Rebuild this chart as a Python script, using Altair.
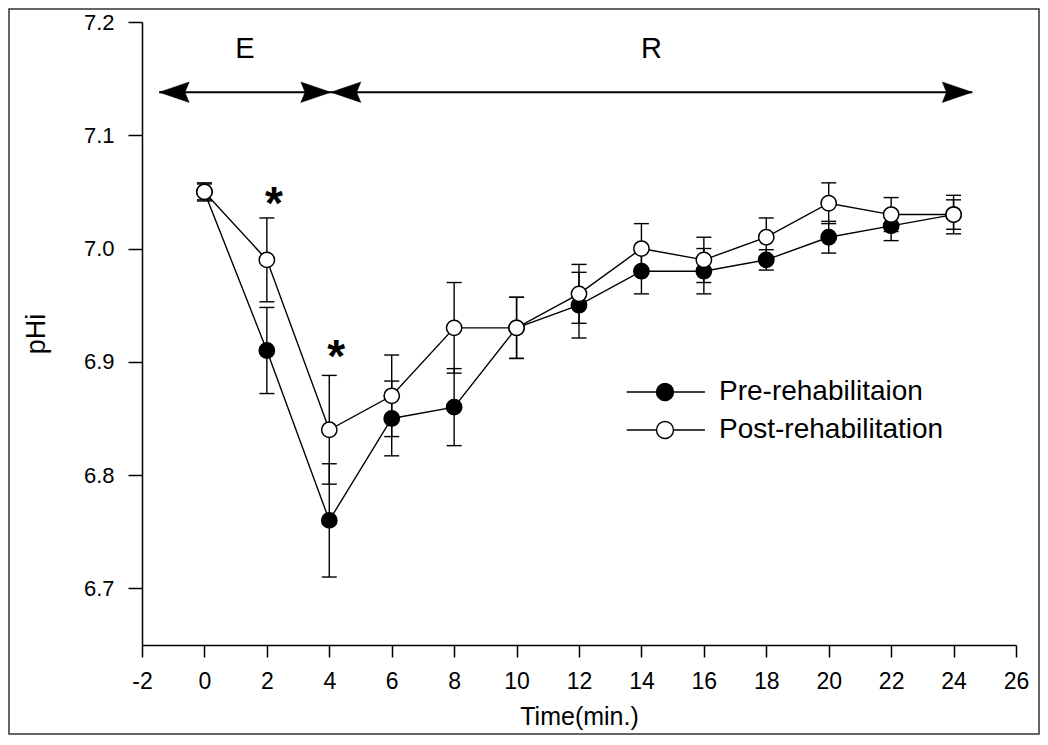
import altair as alt
import pandas as pd

# ---------------- data ----------------
times = [0, 2, 4, 6, 8, 10, 12, 14, 16, 18, 20, 22, 24]
series_names = ["Pre-rehabilitaion", "Post-rehabilitation"]
pre_mean = [7.05, 6.91, 6.76, 6.85, 6.86, 6.93, 6.95, 6.98, 6.98, 6.99, 7.01, 7.02, 7.03]
pre_se = [0.007, 0.038, 0.050, 0.033, 0.034, 0.027, 0.029, 0.020, 0.020, 0.009, 0.014, 0.013, 0.017]
post_mean = [7.05, 6.99, 6.84, 6.87, 6.93, 6.93, 6.96, 7.00, 6.99, 7.01, 7.04, 7.03, 7.03]
post_se = [0.008, 0.037, 0.048, 0.036, 0.040, 0.027, 0.026, 0.022, 0.020, 0.017, 0.018, 0.015, 0.013]

phase_labels = ["E", "R"]
phase_start = [-1.45, 4.05]
phase_end = [4.05, 24.6]

star_times = [2, 4]
star_levels = [7.046, 6.911]

x_ticks = list(range(-2, 27, 2))
y_ticks = [6.7, 6.8, 6.9, 7.0, 7.1, 7.2]

# ---------------- tables ----------------
rows = []
for name, means, ses in [(series_names[0], pre_mean, pre_se), (series_names[1], post_mean, post_se)]:
    for t, m, s in zip(times, means, ses):
        rows.append({"series": name, "time": t, "mean": m, "lo": m - s, "hi": m + s})
df = pd.DataFrame(rows)
df_pre = df[df.series == series_names[0]]
df_post = df[df.series == series_names[1]]

phases = pd.DataFrame({"label": phase_labels, "start": phase_start, "end": phase_end})
phases["mid"] = (phases["start"] + phases["end"]) / 2
stars = pd.DataFrame({"time": star_times, "level": star_levels, "txt": ["*"] * len(star_times)})

# ---------------- layout / style constants ----------------
W, H = 874, 623
ARROW_Y = 7.138
LABEL_Y = 7.176
FONT = "Liberation Sans"
LW = 1.4

xs = alt.Scale(domain=[-2, 26], nice=False, zero=False)
ys = alt.Scale(domain=[6.65, 7.2], nice=False, zero=False)

X = alt.X("time:Q", scale=xs, axis=alt.Axis(
    values=x_ticks, title="Time(min.)", tickSize=12, labelPadding=13,
    labelExpr="datum.value + ''",
    labelFontSize=23, labelFont=FONT, titleFont=FONT, titleFontSize=25,
    titleFontWeight="normal", titlePadding=11, grid=False, labelFlush=False))
Y = alt.Y("mean:Q", scale=ys, axis=alt.Axis(
    values=y_ticks, format=".1f", title="pHi", tickSize=14, labelPadding=14,
    labelFontSize=22, labelFont=FONT, titleFont=FONT, titleFontSize=27,
    titleFontWeight="normal", titlePadding=33, grid=False, labelFlush=False))

frame = alt.Chart(pd.DataFrame({"a": [0]})).mark_rect(
    fill=None, stroke="#333333", strokeWidth=1.5
).encode(x=alt.value(-133), x2=alt.value(897), y=alt.value(-13), y2=alt.value(712))

lines = alt.Chart(df).mark_line(color="black", strokeWidth=LW).encode(
    x=X, y=Y, detail="series:N")


def bars(d):
    rule = alt.Chart(d).mark_rule(color="black", strokeWidth=LW).encode(
        x=alt.X("time:Q", scale=xs), y=alt.Y("lo:Q", scale=ys), y2="hi:Q")
    cap_lo = alt.Chart(d).mark_point(shape="stroke", size=225, stroke="black",
                                     strokeWidth=LW, opacity=1).encode(
        x=alt.X("time:Q", scale=xs), y=alt.Y("lo:Q", scale=ys))
    cap_hi = alt.Chart(d).mark_point(shape="stroke", size=225, stroke="black",
                                     strokeWidth=LW, opacity=1).encode(
        x=alt.X("time:Q", scale=xs), y=alt.Y("hi:Q", scale=ys))
    return [rule, cap_lo, cap_hi]


legend_symbol = "M-4.5,0L-1,0M1,0L4.7,0M-1,0A1,1,0,1,0,1,0A1,1,0,1,0,-1,0Z"
fill_enc = alt.Fill("series:N", scale=alt.Scale(domain=series_names, range=["black", "white"]),
                    legend=alt.Legend(
                        title=None, orient="none", legendX=509, legendY=356,
                        symbolType=legend_symbol, symbolSize=289,
                        symbolStrokeColor="black", symbolStrokeWidth=LW,
                        labelFont=FONT, labelFontSize=28, labelColor="black",
                        labelLimit=0, labelOffset=40, rowPadding=10, padding=0))


def pts(d):
    return alt.Chart(d).mark_circle(size=235, stroke="black", strokeWidth=1.5, opacity=1).encode(
        x=alt.X("time:Q", scale=xs), y=alt.Y("mean:Q", scale=ys), fill=fill_enc)


shaft = alt.Chart(phases).mark_rule(color="black", strokeWidth=2.2).encode(
    x=alt.X("start:Q", scale=xs), x2="end:Q", y=alt.datum(ARROW_Y, scale=ys))
head_l = alt.Chart(phases).mark_point(
    shape="M0,0L2,-0.68L1.72,0L2,0.68Z", size=900, fill="black", stroke="black",
    strokeWidth=0.5, opacity=1, filled=True).encode(
    x=alt.X("start:Q", scale=xs), y=alt.datum(ARROW_Y, scale=ys))
head_r = alt.Chart(phases).mark_point(
    shape="M0,0L-2,-0.68L-1.72,0L-2,0.68Z", size=900, fill="black", stroke="black",
    strokeWidth=0.5, opacity=1, filled=True).encode(
    x=alt.X("end:Q", scale=xs), y=alt.datum(ARROW_Y, scale=ys))
phase_txt = alt.Chart(phases).mark_text(
    font=FONT, fontSize=29, color="black", baseline="middle", align="center").encode(
    x=alt.X("mid:Q", scale=xs), y=alt.datum(LABEL_Y, scale=ys), text="label:N")

star_txt = alt.Chart(stars).mark_text(
    font=FONT, fontSize=46, fontWeight="bold", color="black", baseline="middle",
    align="center", dx=7, dy=9).encode(
    x=alt.X("time:Q", scale=xs), y=alt.Y("level:Q", scale=ys), text="txt:N")

layers = [frame, lines] + bars(df_pre) + bars(df_post) + [pts(df_pre), pts(df_post),
                                                          shaft, head_l, head_r, phase_txt, star_txt]

chart = alt.layer(*layers).resolve_scale(fill="shared").properties(
    width=W, height=H,
    autosize=alt.AutoSizeParams(type="none"),
    padding={"left": 134, "top": 14, "right": 24, "bottom": 90},
    background="white",
).configure_view(stroke=None).configure_axis(
    domainColor="black", domainWidth=1.5, tickColor="black", tickWidth=1.5,
    labelColor="black", titleColor="black"
)

chart.save("out.html", embed_options={"renderer": "svg", "actions": False})
